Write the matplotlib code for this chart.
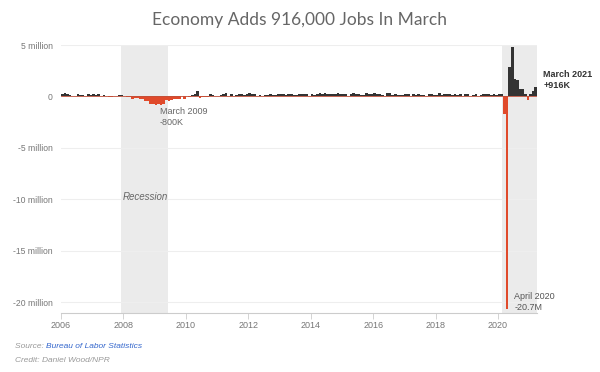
import matplotlib
matplotlib.use("Agg")
import matplotlib.pyplot as plt
import numpy as np

# Monthly change in nonfarm payrolls (thousands), Jan 2006 - Mar 2021
jobs_2006 = [277, 315, 280, 182, 23, 77, 207, 184, 157, 2, 210, 171]
jobs_2007 = [238, 93, 190, 80, 143, 75, -34, -20, 85, 82, 118, 97]
jobs_2008 = [17, -84, -78, -210, -186, -162, -213, -267, -450, -474, -766, -694]
jobs_2009 = [-793, -702, -823, -687, -361, -467, -304, -213, -220, -204, -2, -275]
jobs_2010 = [23, -68, 164, 243, 522, -133, -70, -34, -52, 262, 119, 87]
jobs_2011 = [43, 189, 225, 346, 77, 225, 69, 110, 245, 206, 138, 221]
jobs_2012 = [359, 257, 223, 76, 115, 87, 143, 177, 203, 146, 132, 244]
jobs_2013 = [211, 286, 130, 197, 226, 162, 122, 261, 190, 212, 258, 47]
jobs_2014 = [190, 151, 272, 329, 246, 304, 202, 230, 280, 227, 312, 255]
jobs_2015 = [234, 238, 86, 262, 344, 206, 254, 157, 100, 321, 272, 249]
jobs_2016 = [310, 237, 225, 153, 43, 297, 291, 135, 249, 124, 164, 155]
jobs_2017 = [216, 232, 50, 207, 145, 210, 173, 155, 18, 264, 216, 175]
jobs_2018 = [171, 330, 182, 196, 270, 235, 173, 211, 96, 244, 88, 227]
jobs_2019 = [269, 1, 147, 210, 85, 182, 194, 207, 208, 185, 261, 184]
jobs_2020 = [214, 251, -1683, -20679, 2833, 4846, 1726, 1583, 716, 680, 264, -306]
jobs_2021 = [233, 536, 916]

start_year = 2006
recessions = [(2007.917, 2009.42), (2020.12, 2021.25)]
ytick_values = [5, 0, -5, -10, -15, -20]
ytick_labels = ["5 million", "0", "-5 million", "-10 million", "-15 million", "-20 million"]
xtick_years = [2006, 2008, 2010, 2012, 2014, 2016, 2018, 2020]

values = np.array(jobs_2006 + jobs_2007 + jobs_2008 + jobs_2009 + jobs_2010 +
                  jobs_2011 + jobs_2012 + jobs_2013 + jobs_2014 + jobs_2015 +
                  jobs_2016 + jobs_2017 + jobs_2018 + jobs_2019 + jobs_2020 +
                  jobs_2021) / 1000.0
dates = start_year + np.arange(len(values)) / 12.0

plt.rcParams['font.family'] = ['Liberation Sans', 'DejaVu Sans']

fig = plt.figure(figsize=(6, 3.72), dpi=100)
ax = fig.add_axes([0.1017, 0.1586, 0.895 - 0.1017, 0.879 - 0.1586])

for a, b in recessions:
    ax.axvspan(a, b, color="#ebebeb", lw=0, zorder=0)

for y in ytick_values:
    ax.axhline(y, color="#eeeeee", lw=0.8, zorder=0.5)

colors = ["#333333" if v >= 0 else "#e04a2b" for v in values]
ax.bar(dates, values, width=1/12, align="edge", color=colors, lw=0, zorder=2)
ax.axhline(0, color="#c0503a", lw=0.6, zorder=3)

ax.set_xlim(2006, 2021.25)
ax.set_ylim(-21.05, 5.0)

ax.set_yticks(ytick_values)
ax.set_yticklabels(ytick_labels)
ax.set_xticks(xtick_years)
ax.set_xticklabels([str(y) for y in xtick_years])
ax.tick_params(axis="y", length=0, pad=6, labelsize=6.2, labelcolor="#777777")
ax.tick_params(axis="x", length=4, width=0.6, color="#cccccc", pad=2,
               labelsize=6.5, labelcolor="#777777")
for s in ["top", "right", "left"]:
    ax.spines[s].set_visible(False)
ax.spines["bottom"].set_color("#cccccc")
ax.spines["bottom"].set_linewidth(0.8)

ax.text(2009.17, -1.05, "March 2009\n-800K", fontsize=6.5, color="#666666",
        ha="left", va="top", linespacing=1.3)
ax.text(2008.7, -9.75, "Recession", fontsize=7, color="#666666", style="italic",
        ha="center", va="center")
ax.text(2021.45, 1.62, "March 2021\n+916K", fontsize=6.5, color="#333333",
        fontweight="bold", ha="left", va="center", linespacing=1.3, clip_on=False)
ax.text(2020.52, -20.0, "April 2020\n-20.7M", fontsize=6.5, color="#555555",
        ha="left", va="center", linespacing=1.3)

fig.text(0.5, 1 - 20/372, "Economy Adds 916,000 Jobs In March", fontsize=12.5,
         color="#666666", ha="center", va="center", family=["Lato", "DejaVu Sans"])

t1 = fig.text(15/600, 1 - 346/372, "Source: ", fontsize=6, color="#999999",
              style="italic", ha="left", va="center")
fig.canvas.draw()
bb = t1.get_window_extent()
fig.text(bb.x1 / fig.bbox.width, 1 - 346/372, "Bureau of Labor Statistics",
         fontsize=6, color="#3366cc", style="italic", ha="left", va="center")
fig.text(15/600, 1 - 360/372, "Credit: Daniel Wood/NPR", fontsize=6,
         color="#999999", style="italic", ha="left", va="center")

fig.savefig("out.png", dpi=100)
